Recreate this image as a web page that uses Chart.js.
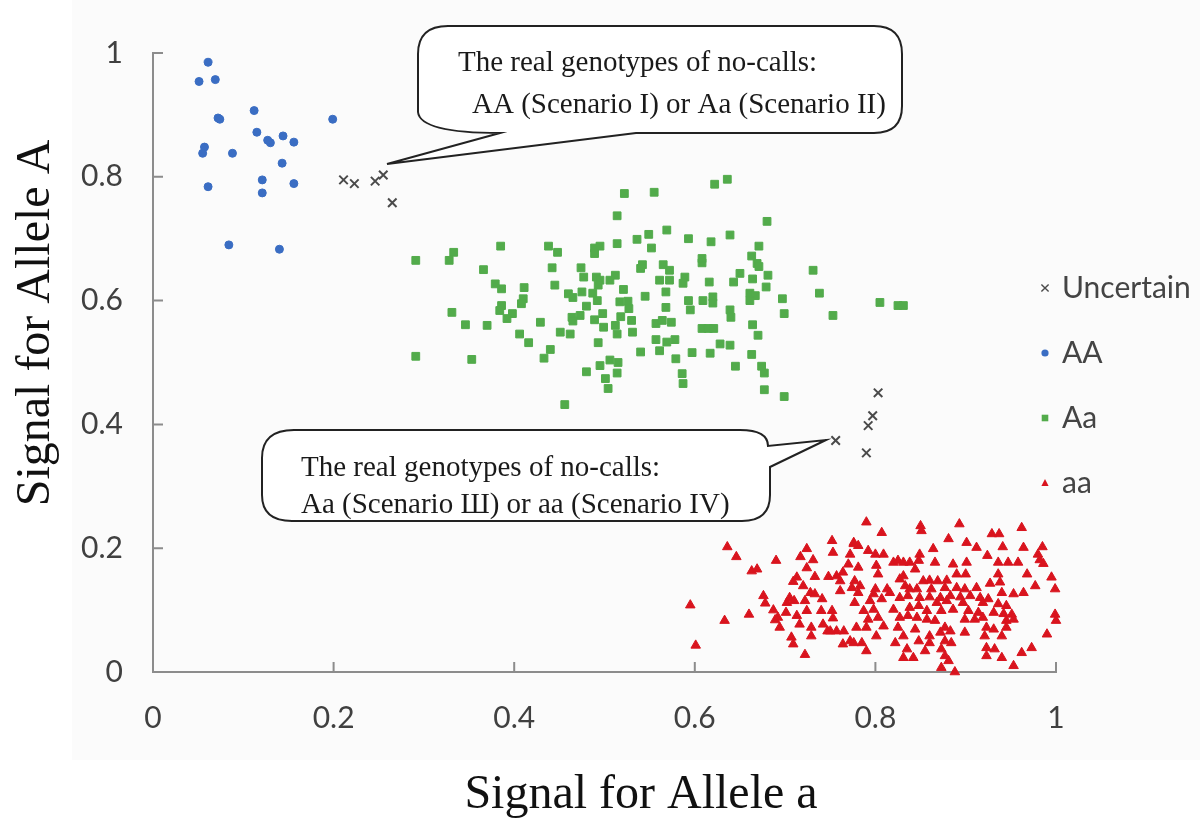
<!DOCTYPE html>
<html>
<head>
<meta charset="utf-8">
<script src="https://cdn.jsdelivr.net/npm/chart.js@4.4.1/dist/chart.umd.min.js"></script>
<style>
  html, body { margin: 0; padding: 0; background: #fff; }
  #wrap { width: 1200px; height: 839px; }
</style>
</head>
<body>
<div id="wrap"><canvas id="chart" width="1200" height="839"></canvas></div>
<script>
  // Tick values and labels for both axes
  const xTickVals = [0, 0.2, 0.4, 0.6, 0.8, 1];
  const xTickLabels = ['0', '0.2', '0.4', '0.6', '0.8', '1'];
  const yTickVals = [0, 0.2, 0.4, 0.6, 0.8, 1];
  const yTickLabels = ['0', '0.2', '0.4', '0.6', '0.8', '1'];

  const seriesNames = ['Uncertain', 'AA', 'Aa', 'aa'];

  // [signal for allele a, signal for allele A]
  const ptsUncertain = [
    [0.211,0.795],[0.223,0.789],[0.246,0.793],[0.255,0.803],[0.265,0.758],
    [0.756,0.374],[0.803,0.451],[0.797,0.414],[0.792,0.398],[0.790,0.354]
  ];

  const ptsAA = [
    [0.061,0.985],[0.051,0.954],[0.069,0.957],[0.072,0.895],[0.074,0.893],[0.112,0.907],
    [0.199,0.893],[0.115,0.872],[0.130,0.855],[0.127,0.859],[0.144,0.866],[0.156,0.856],
    [0.057,0.848],[0.055,0.838],[0.088,0.838],[0.143,0.822],[0.061,0.784],[0.121,0.795],
    [0.121,0.774],[0.156,0.789],[0.084,0.690],[0.140,0.683]
  ];

  const ptsAa = [
    [0.291,0.665],[0.333,0.678],[0.328,0.665],[0.331,0.581],[0.291,0.510],[0.346,0.561],[0.353,0.505],
    [0.522,0.773],[0.555,0.775],[0.514,0.737],[0.569,0.714],[0.549,0.707],[0.536,0.699],[0.593,0.700],
    [0.552,0.685],[0.514,0.692],[0.385,0.688],[0.438,0.688],[0.448,0.678],[0.489,0.685],[0.495,0.688],
    [0.489,0.676],[0.366,0.650],[0.442,0.653],[0.474,0.653],[0.477,0.638],[0.542,0.658],[0.540,0.652],
    [0.565,0.658],[0.572,0.649],[0.491,0.638],[0.495,0.633],[0.512,0.641],[0.506,0.633],[0.561,0.633],
    [0.572,0.633],[0.589,0.638],[0.587,0.628],[0.379,0.627],[0.386,0.619],[0.411,0.621],[0.445,0.625],
    [0.493,0.625],[0.521,0.618],[0.460,0.611],[0.475,0.614],[0.465,0.605],[0.487,0.612],[0.492,0.600],
    [0.410,0.603],[0.408,0.595],[0.517,0.598],[0.526,0.599],[0.545,0.607],[0.568,0.614],[0.568,0.589],
    [0.593,0.600],[0.595,0.585],[0.386,0.592],[0.384,0.584],[0.398,0.579],[0.392,0.571],[0.480,0.591],
    [0.464,0.573],[0.473,0.576],[0.465,0.567],[0.498,0.579],[0.489,0.569],[0.518,0.574],[0.527,0.587],
    [0.530,0.568],[0.499,0.557],[0.512,0.560],[0.514,0.546],[0.531,0.549],[0.557,0.563],[0.564,0.568],
    [0.574,0.565],[0.429,0.565],[0.370,0.560],[0.406,0.546],[0.416,0.532],[0.451,0.549],[0.462,0.546],
    [0.493,0.532],[0.557,0.537],[0.569,0.533],[0.578,0.537],[0.561,0.519],[0.540,0.517],[0.597,0.516],
    [0.440,0.521],[0.433,0.507],[0.579,0.506],[0.495,0.495],[0.506,0.504],[0.515,0.500],[0.480,0.485],
    [0.514,0.483],[0.501,0.474],[0.504,0.458],[0.586,0.482],[0.587,0.466],[0.456,0.432],
    [0.622,0.788],[0.636,0.796],[0.680,0.728],[0.671,0.688],[0.639,0.706],[0.618,0.695],[0.608,0.661],
    [0.608,0.668],[0.663,0.672],[0.669,0.660],[0.671,0.655],[0.650,0.644],[0.643,0.630],[0.664,0.635],
    [0.681,0.641],[0.679,0.622],[0.616,0.630],[0.731,0.649],[0.738,0.612],[0.753,0.576],[0.697,0.603],
    [0.699,0.579],[0.661,0.612],[0.667,0.608],[0.661,0.600],[0.639,0.585],[0.640,0.573],[0.620,0.606],
    [0.620,0.596],[0.609,0.600],[0.608,0.555],[0.615,0.555],[0.621,0.555],[0.664,0.561],[0.670,0.544],
    [0.628,0.530],[0.639,0.528],[0.663,0.513],[0.617,0.515],[0.645,0.494],[0.674,0.494],[0.677,0.483],
    [0.677,0.456],[0.699,0.445],[0.805,0.597],[0.825,0.592],[0.831,0.592]
  ];

  const ptsaa = [
    [0.636,0.202],[0.646,0.186],[0.595,0.108],[0.601,0.043],[0.633,0.083],[0.660,0.093],[0.663,0.163],
    [0.669,0.166],[0.690,0.180],[0.676,0.123],[0.678,0.111],[0.687,0.100],[0.689,0.084],[0.694,0.072],
    [0.702,0.112],[0.705,0.120],[0.701,0.096],[0.709,0.045],[0.707,0.056],[0.716,0.077],[0.710,0.115],
    [0.713,0.153],[0.717,0.186],[0.724,0.199],[0.731,0.181],[0.724,0.168],[0.720,0.139],[0.728,0.128],
    [0.722,0.115],[0.724,0.099],[0.729,0.072],[0.729,0.058],[0.722,0.028],[0.733,0.154],[0.741,0.118],
    [0.740,0.099],[0.742,0.077],[0.747,0.066],[0.752,0.099],[0.753,0.087],[0.752,0.212],[0.753,0.193],
    [0.748,0.154],[0.757,0.155],[0.761,0.147],[0.764,0.161],[0.770,0.174],[0.776,0.207],[0.761,0.131],
    [0.774,0.136],[0.757,0.066],[0.765,0.066],[0.764,0.045],[0.772,0.050],[0.709,0.146],[0.713,0.091],
    [0.692,0.088],[0.750,0.066],[0.733,0.126],
    [0.790,0.242],[0.807,0.225],[0.850,0.236],[0.851,0.228],[0.893,0.239],[0.881,0.215],[0.929,0.223],
    [0.937,0.223],[0.962,0.233],[0.901,0.209],[0.912,0.201],[0.941,0.202],[0.964,0.201],[0.985,0.202],
    [0.776,0.209],[0.781,0.204],[0.792,0.196],[0.800,0.190],[0.809,0.190],[0.772,0.190],[0.864,0.199],
    [0.849,0.190],[0.924,0.188],[0.980,0.190],[0.982,0.181],[0.986,0.175],[0.820,0.177],[0.825,0.180],
    [0.831,0.177],[0.838,0.177],[0.848,0.180],[0.866,0.177],[0.901,0.177],[0.936,0.177],[0.947,0.177],
    [0.958,0.177],[0.781,0.169],[0.801,0.172],[0.886,0.174],[0.844,0.166],[0.803,0.158],[0.831,0.155],
    [0.890,0.158],[0.900,0.158],[0.936,0.158],[0.968,0.158],[0.995,0.153],[0.777,0.147],[0.827,0.150],
    [0.853,0.147],[0.860,0.148],[0.869,0.147],[0.879,0.148],[0.927,0.143],[0.938,0.145],[0.977,0.139],
    [0.999,0.134],[0.783,0.139],[0.800,0.134],[0.833,0.139],[0.838,0.134],[0.846,0.134],[0.862,0.134],
    [0.877,0.136],[0.890,0.136],[0.899,0.134],[0.912,0.136],[0.781,0.128],[0.813,0.134],[0.816,0.128],
    [0.798,0.126],[0.940,0.128],[0.953,0.126],[0.964,0.128],[0.807,0.118],[0.827,0.120],[0.836,0.123],
    [0.849,0.120],[0.860,0.121],[0.872,0.120],[0.883,0.123],[0.894,0.121],[0.905,0.123],[0.916,0.120],
    [0.925,0.118],[0.777,0.112],[0.794,0.115],[0.838,0.104],[0.848,0.107],[0.868,0.112],[0.879,0.115],
    [0.897,0.112],[0.919,0.112],[0.936,0.110],[0.945,0.107],[0.787,0.099],[0.798,0.101],[0.820,0.101],
    [0.857,0.099],[0.873,0.099],[0.886,0.101],[0.903,0.099],[0.914,0.096],[0.931,0.096],[0.942,0.094],
    [0.951,0.093],[0.999,0.093],[1.000,0.083],[0.792,0.085],[0.803,0.088],[0.827,0.088],[0.836,0.091],
    [0.846,0.088],[0.857,0.085],[0.866,0.083],[0.899,0.085],[0.910,0.085],[0.919,0.088],[0.945,0.083],
    [0.953,0.085],[0.779,0.072],[0.790,0.072],[0.809,0.074],[0.825,0.072],[0.844,0.069],[0.877,0.072],
    [0.883,0.066],[0.923,0.072],[0.931,0.069],[0.945,0.072],[0.801,0.058],[0.831,0.058],[0.860,0.058],
    [0.872,0.064],[0.899,0.064],[0.921,0.058],[0.940,0.058],[0.990,0.061],[0.776,0.047],[0.785,0.047],
    [0.822,0.047],[0.848,0.050],[0.860,0.047],[0.877,0.050],[0.884,0.047],[0.790,0.034],[0.835,0.037],
    [0.855,0.034],[0.873,0.037],[0.923,0.039],[0.932,0.037],[0.973,0.039],[0.831,0.023],[0.842,0.023],
    [0.877,0.026],[0.923,0.026],[0.940,0.023],[0.962,0.031],[0.953,0.010],[0.873,0.007],[0.888,0.000],
    [0.881,0.018]
  ];

  const toXY = pts => pts.map(p => ({ x: p[0], y: p[1] }));

  const tickFont = { family: 'Lato, "Open Sans", sans-serif', size: 30 };
  const axisColor = '#8c8c8c';

  // very light grey backdrop behind the plot, like the pasted figure
  const backdrop = {
    id: 'backdrop',
    beforeDraw(chart) {
      const c = chart.ctx;
      c.save();
      c.fillStyle = '#ffffff';
      c.fillRect(0, 0, chart.width, chart.height);
      c.fillStyle = '#fbfbfb';
      c.fillRect(72, 0, chart.width - 72, 760);
      c.restore();
    }
  };

  function marker(c, style, x, y, r, color) {
    c.save();
    c.fillStyle = color;
    c.strokeStyle = color;
    c.lineWidth = 1.4;
    c.beginPath();
    if (style === 'crossRot') {
      c.moveTo(x - r, y - r); c.lineTo(x + r, y + r);
      c.moveTo(x + r, y - r); c.lineTo(x - r, y + r);
      c.stroke();
    } else if (style === 'circle') {
      c.arc(x, y, r, 0, Math.PI * 2); c.fill();
    } else if (style === 'rect') {
      c.rect(x - r, y - r, 2 * r, 2 * r); c.fill();
    } else {
      c.moveTo(x, y - r * 1.1); c.lineTo(x + r, y + r * 0.8); c.lineTo(x - r, y + r * 0.8);
      c.closePath(); c.fill();
    }
    c.restore();
  }

  // inner tick marks, axis titles, call-outs and legend
  const overlay = {
    id: 'overlay',
    afterDraw(chart) {
      const c = chart.ctx;
      const xs = chart.scales.x, ys = chart.scales.y;
      const area = chart.chartArea;
      c.save();
      c.strokeStyle = axisColor;
      c.lineWidth = 2;
      c.beginPath();
      xTickVals.forEach(v => {
        const px = xs.getPixelForValue(v);
        c.moveTo(px, area.bottom); c.lineTo(px, area.bottom - 10);
      });
      yTickVals.forEach(v => {
        const py = ys.getPixelForValue(v);
        c.moveTo(area.left, py); c.lineTo(area.left + 10, py);
      });
      c.stroke();

      // axis titles
      c.fillStyle = '#111';
      c.font = '48px "Liberation Serif", "Times New Roman", serif';
      c.textAlign = 'center';
      c.textBaseline = 'middle';
      c.fillText('Signal for Allele a', 641, 795);
      c.save();
      c.translate(36, 323);
      c.rotate(-Math.PI / 2);
      c.fillText('Signal for Allele A', 0, 0);
      c.restore();

      // call-out 1
      c.lineWidth = 2;
      c.strokeStyle = '#222';
      c.fillStyle = '#ffffff';
      c.beginPath();
      c.moveTo(500, 133);
      c.lineTo(387, 164);
      c.lineTo(636, 133);
      c.lineTo(874, 133);
      c.quadraticCurveTo(902, 133, 902, 106);
      c.lineTo(902, 54);
      c.quadraticCurveTo(902, 26, 874, 26);
      c.lineTo(448, 26);
      c.quadraticCurveTo(418, 26, 418, 54);
      c.lineTo(418, 112);
      c.quadraticCurveTo(420, 133, 500, 133);
      c.closePath();
      c.fill();
      c.stroke();

      // call-out 2
      c.beginPath();
      c.moveTo(294, 430);
      c.lineTo(740, 430);
      c.quadraticCurveTo(768, 430, 768, 446);
      c.lineTo(826, 440);
      c.lineTo(770, 467);
      c.lineTo(770, 495);
      c.quadraticCurveTo(770, 521, 742, 521);
      c.lineTo(292, 521);
      c.quadraticCurveTo(262, 521, 262, 495);
      c.lineTo(262, 458);
      c.quadraticCurveTo(262, 430, 294, 430);
      c.closePath();
      c.fill();
      c.stroke();

      c.fillStyle = '#1a1a1a';
      c.font = '29px "Liberation Serif", "Times New Roman", serif';
      c.textAlign = 'left';
      c.fillText('The real genotypes of no-calls:', 458, 63);
      c.fillText('AA (Scenario I) or Aa (Scenario II)', 472, 105);
      c.fillText('The real genotypes of no-calls:', 301, 468);
      c.fillText('Aa (Scenario \u0428) or aa (Scenario IV)', 301, 505);

      // legend
      c.font = '30px Lato, "Open Sans", sans-serif';
      chart.data.datasets.forEach((ds, i) => {
        const ly = 288 + i * 65;
        const r = ds.pointStyle === 'rect' ? 3.3 : 3.6;
        marker(c, ds.pointStyle, 1045, ly, r, ds.pointBackgroundColor);
        c.fillStyle = '#444';
        c.fillText(ds.label, 1062, ly);
      });
      c.restore();
    }
  };

  const ctx = document.getElementById('chart').getContext('2d');
  const chart = new Chart(ctx, {
    type: 'scatter',
    data: {
      datasets: [
        {
          label: seriesNames[0], data: toXY(ptsUncertain), pointStyle: 'crossRot',
          pointRadius: 6, pointBorderWidth: 2,
          pointBackgroundColor: '#4a4a4a', pointBorderColor: '#4a4a4a', clip: false
        },
        {
          label: seriesNames[1], data: toXY(ptsAA), pointStyle: 'circle',
          pointRadius: 4, pointBorderWidth: 1,
          pointBackgroundColor: '#3a6dc3', pointBorderColor: '#3a6dc3', clip: false
        },
        {
          label: seriesNames[2], data: toXY(ptsAa), pointStyle: 'rect',
          pointRadius: 5.5, pointBorderWidth: 1,
          pointBackgroundColor: '#52ab4b', pointBorderColor: '#52ab4b', clip: false
        },
        {
          label: seriesNames[3], data: toXY(ptsaa), pointStyle: 'triangle',
          pointRadius: 5.5, pointBorderWidth: 1,
          pointBackgroundColor: '#d9141e', pointBorderColor: '#d9141e', clip: false
        }
      ]
    },
    options: {
      responsive: false,
      animation: false,
      layout: { padding: { top: 53, right: 144, bottom: 0, left: 0 } },
      plugins: {
        legend: { display: false },
        tooltip: { enabled: false }
      },
      scales: {
        x: {
          type: 'linear', min: 0, max: 1,
          grid: { display: false, drawTicks: false },
          border: { display: true, color: axisColor, width: 2 },
          afterBuildTicks: s => { s.ticks = xTickVals.map(v => ({ value: v })); },
          afterFit: s => { s.height = 167; },
          ticks: {
            font: tickFont, color: '#404040', padding: 28, maxRotation: 0,
            callback: (v, i) => xTickLabels[i]
          }
        },
        y: {
          type: 'linear', min: 0, max: 1,
          grid: { display: false, drawTicks: false },
          border: { display: true, color: axisColor, width: 2 },
          afterBuildTicks: s => { s.ticks = yTickVals.map(v => ({ value: v })); },
          afterFit: s => { s.width = 153; },
          ticks: {
            font: tickFont, color: '#404040', padding: 30,
            callback: (v, i) => yTickLabels[i]
          }
        }
      }
    },
    plugins: [backdrop, overlay]
  });
</script>
</body>
</html>
